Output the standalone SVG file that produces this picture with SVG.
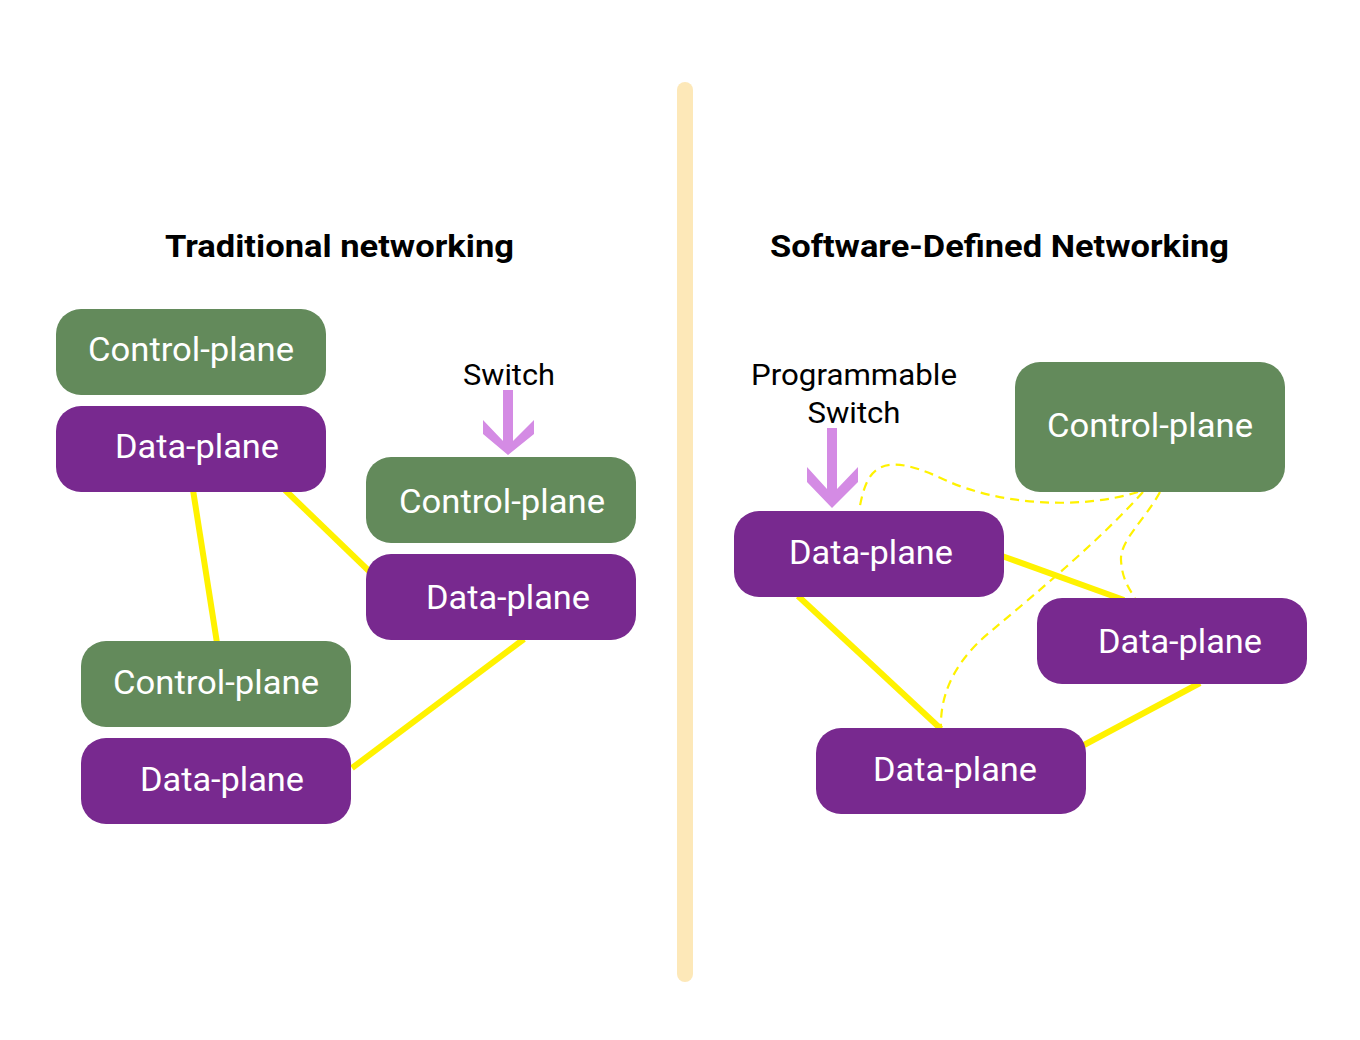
<svg xmlns="http://www.w3.org/2000/svg" width="1360" height="1040" viewBox="0 0 1360 1040">
<style>
.ctrl{fill:#638a5b}
.data{fill:#78298f}
.lbl{fill:#ffffff;font-family:Roboto,"Liberation Sans",sans-serif;font-size:34px;text-anchor:middle}
.title{fill:#000000;font-family:Roboto,"Liberation Sans",sans-serif;font-size:31px;font-weight:bold;text-anchor:middle}
.note{fill:#000000;font-family:Roboto,"Liberation Sans",sans-serif;font-size:30px;text-anchor:middle}
.link{stroke:#fff200;stroke-width:6;fill:none}
.dash{stroke:#fff200;stroke-width:2.2;fill:none;stroke-dasharray:9 6}
.arrow{fill:#d48be4}
</style>
<rect width="1360" height="1040" fill="#ffffff"/>
<rect x="677" y="82" width="16" height="900" rx="8" fill="#fde8b8"/>
<text class="title" x="339.5" y="257" textLength="349" lengthAdjust="spacingAndGlyphs">Traditional networking</text>
<text class="title" x="999.5" y="257" textLength="459" lengthAdjust="spacingAndGlyphs">Software-Defined Networking</text>
<g id="connectors">
<line class="link" x1="193" y1="490" x2="217" y2="643"/>
<line class="link" x1="285" y1="490" x2="370" y2="572"/>
<line class="link" x1="524" y1="639" x2="352" y2="768"/>
<line class="link" x1="1002" y1="556" x2="1124" y2="600"/>
<line class="link" x1="798" y1="596" x2="941" y2="729"/>
<line class="link" x1="1200" y1="683" x2="1084" y2="745"/>
<path class="dash" d="M1138 492 C1080 510 1000 505 945 480 C905 461 880 458 868 480 C863 490 861 500 859 511"/>
<path class="dash" d="M1143 492 C1100 540 1040 590 990 632 C950 665 940 700 941 728"/>
<path class="dash" d="M1160 492 C1145 520 1120 540 1121 560 C1122 580 1130 590 1135 598"/>
</g>
<g id="cp1"><rect class="ctrl" x="56" y="309" width="270" height="86" rx="25"/><text class="lbl" x="191" y="361" textLength="206" lengthAdjust="spacingAndGlyphs">Control-plane</text></g>
<g id="dp1"><rect class="data" x="56" y="406" width="270" height="86" rx="25"/><text class="lbl" x="197" y="458" textLength="164" lengthAdjust="spacingAndGlyphs">Data-plane</text></g>
<g id="cp2"><rect class="ctrl" x="366" y="457" width="270" height="86" rx="25"/><text class="lbl" x="502" y="513" textLength="206" lengthAdjust="spacingAndGlyphs">Control-plane</text></g>
<g id="dp2"><rect class="data" x="366" y="554" width="270" height="86" rx="25"/><text class="lbl" x="508" y="609" textLength="164" lengthAdjust="spacingAndGlyphs">Data-plane</text></g>
<g id="cp3"><rect class="ctrl" x="81" y="641" width="270" height="86" rx="25"/><text class="lbl" x="216" y="694" textLength="206" lengthAdjust="spacingAndGlyphs">Control-plane</text></g>
<g id="dp3"><rect class="data" x="81" y="738" width="270" height="86" rx="25"/><text class="lbl" x="222" y="791" textLength="164" lengthAdjust="spacingAndGlyphs">Data-plane</text></g>
<g id="switch-label">
<text class="note" x="509" y="385" textLength="92" lengthAdjust="spacingAndGlyphs">Switch</text>
<polygon class="arrow" points="503,390 513,390 513,441 534,420 534,434 508,455 483,434 483,420 503,441"/>
</g>
<g id="cpR"><rect class="ctrl" x="1015" y="362" width="270" height="130" rx="25"/><text class="lbl" x="1150" y="437" textLength="206" lengthAdjust="spacingAndGlyphs">Control-plane</text></g>
<g id="dpA"><rect class="data" x="734" y="511" width="270" height="86" rx="25"/><text class="lbl" x="871" y="564" textLength="164" lengthAdjust="spacingAndGlyphs">Data-plane</text></g>
<g id="dpB"><rect class="data" x="1037" y="598" width="270" height="86" rx="25"/><text class="lbl" x="1180" y="653" textLength="164" lengthAdjust="spacingAndGlyphs">Data-plane</text></g>
<g id="dpC"><rect class="data" x="816" y="728" width="270" height="86" rx="25"/><text class="lbl" x="955" y="781" textLength="164" lengthAdjust="spacingAndGlyphs">Data-plane</text></g>
<g id="prog-switch-label">
<text class="note" x="854" y="385" textLength="206" lengthAdjust="spacingAndGlyphs">Programmable</text>
<text class="note" x="854" y="423" textLength="93" lengthAdjust="spacingAndGlyphs">Switch</text>
<polygon class="arrow" points="827,428 837,428 837,489 858,467 858,482 832,508 807,482 807,467 827,489"/>
</g>
</svg>
